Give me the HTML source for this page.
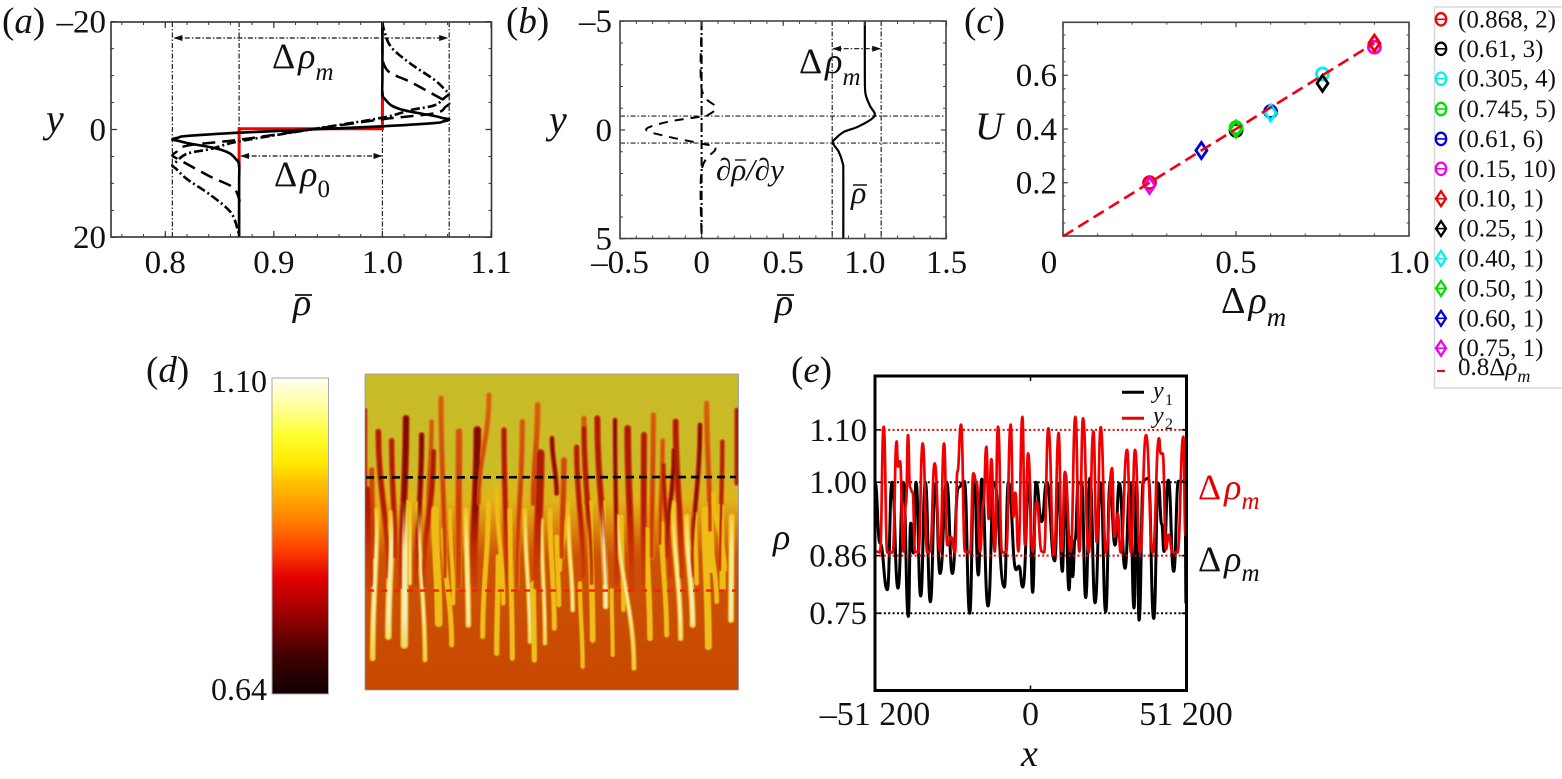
<!DOCTYPE html>
<html lang="en">
<head>
<meta charset="utf-8">
<title>Density profiles and fingering figure</title>
<style>
html,body{margin:0;padding:0;background:#fff;}
svg{display:block;font-family:"Liberation Serif","DejaVu Serif",serif;fill:#111;}
.it{font-style:italic;}
</style>
</head>
<body>
<svg id="fig" xmlns="http://www.w3.org/2000/svg" width="1562" height="779" viewBox="0 0 1562 779">
<defs>
<marker id="arrow" markerWidth="9" markerHeight="7" refX="8" refY="3.5" orient="auto-start-reverse" markerUnits="userSpaceOnUse"><path d="M0 0.5L9 3.5L0 6.5z" fill="#111"/></marker>
<linearGradient id="cbar" x1="0" y1="0" x2="0" y2="1">
<stop offset="0" stop-color="#fffff4"/><stop offset="0.1" stop-color="#ffff90"/><stop offset="0.18" stop-color="#ffff30"/><stop offset="0.27" stop-color="#ffe800"/><stop offset="0.334" stop-color="#ffc000"/><stop offset="0.45" stop-color="#ff8000"/><stop offset="0.544" stop-color="#ff4000"/><stop offset="0.63" stop-color="#e40000"/><stop offset="0.69" stop-color="#c00000"/><stop offset="0.787" stop-color="#800000"/><stop offset="0.88" stop-color="#400000"/><stop offset="1" stop-color="#100000"/>
</linearGradient>
<linearGradient id="fieldbg" x1="0" y1="0" x2="0" y2="1">
<stop offset="0" stop-color="#c8bb28"/><stop offset="0.3" stop-color="#cbbb26"/><stop offset="0.4" stop-color="#e0b41a"/><stop offset="0.5" stop-color="#d87c0e"/><stop offset="0.58" stop-color="#cc5206"/><stop offset="1" stop-color="#c84800"/>
</linearGradient>
<linearGradient id="riseCore0" gradientUnits="userSpaceOnUse" x1="0" y1="374" x2="0" y2="600">
<stop offset="0" stop-color="#6c0800"/><stop offset="0.6" stop-color="#8e1000"/><stop offset="0.78" stop-color="#c02c04"/><stop offset="1" stop-color="#cc4a04"/>
</linearGradient>
<linearGradient id="riseCore1" gradientUnits="userSpaceOnUse" x1="0" y1="374" x2="0" y2="600">
<stop offset="0" stop-color="#a81804"/><stop offset="0.6" stop-color="#b01c04"/><stop offset="0.78" stop-color="#c63404"/><stop offset="1" stop-color="#cc4a04"/>
</linearGradient>
<linearGradient id="riseCore2" gradientUnits="userSpaceOnUse" x1="0" y1="374" x2="0" y2="600">
<stop offset="0" stop-color="#d8680e"/><stop offset="0.6" stop-color="#cc3c06"/><stop offset="1" stop-color="#cc4a04"/>
</linearGradient>
<linearGradient id="fallBody" gradientUnits="userSpaceOnUse" x1="0" y1="374" x2="0" y2="690">
<stop offset="0" stop-color="#e6bc1a"/><stop offset="0.5" stop-color="#f0bc14"/><stop offset="1" stop-color="#ecc020"/>
</linearGradient>
<linearGradient id="fallCore" gradientUnits="userSpaceOnUse" x1="0" y1="500" x2="0" y2="690">
<stop offset="0" stop-color="#f8f0b0" stop-opacity="0"/><stop offset="0.25" stop-color="#f8f0b0" stop-opacity="0.9"/><stop offset="0.6" stop-color="#f4ecc0" stop-opacity="1"/><stop offset="0.9" stop-color="#f0d050" stop-opacity="0.7"/><stop offset="1" stop-color="#f0d050" stop-opacity="0"/>
</linearGradient>
<clipPath id="fieldclip"><rect x="365" y="374" width="373.5" height="316"/></clipPath>
<filter id="soft" x="-5%" y="-5%" width="110%" height="110%"><feGaussianBlur stdDeviation="0.6"/></filter>
</defs>

<!-- panel a -->
<g id="panel-a">
<text x="2" y="33" font-size="37">(<tspan class="it">a</tspan>)</text>
<text x="46" y="132" font-size="40" class="it">y</text>
<text x="293" y="315" font-size="38" class="it">ρ</text>
<line x1="295" y1="295" x2="312" y2="295" stroke="#111" stroke-width="1.8"/>
<text x="272" y="68" font-size="36">Δ<tspan class="it" dx="3">ρ</tspan><tspan class="it" font-size="25" dy="12">m</tspan></text>
<text x="274" y="186" font-size="36">Δ<tspan class="it" dx="3">ρ</tspan><tspan font-size="25" dy="11">0</tspan></text>
</g>

<!-- panel b -->
<g id="panel-b">
<text x="506" y="33" font-size="37">(<tspan class="it">b</tspan>)</text>
<text x="549" y="133" font-size="40" class="it">y</text>
<text x="775" y="315" font-size="38" class="it">ρ</text>
<line x1="777" y1="295" x2="794" y2="295" stroke="#111" stroke-width="1.8"/>
<text x="799" y="73" font-size="36">Δ<tspan class="it" dx="3">ρ</tspan><tspan class="it" font-size="25" dy="12">m</tspan></text>
<text x="716" y="180" font-size="31" class="it">∂ρ/∂y</text>
<line x1="735" y1="160" x2="746" y2="160" stroke="#111" stroke-width="1.4"/>
<text x="851" y="203" font-size="32" class="it">ρ</text>
<line x1="853" y1="185" x2="867" y2="185" stroke="#111" stroke-width="1.5"/>
</g>

<!-- panel c -->
<g id="panel-c">
<text x="964" y="33" font-size="37">(<tspan class="it">c</tspan>)</text>
<text x="975" y="139" font-size="39" class="it">U</text>
<text x="1221" y="313" font-size="38">Δ<tspan class="it" dx="3">ρ</tspan><tspan class="it" font-size="27" dy="13">m</tspan></text>
</g>
<g id="legend-c">
<rect x="1434.5" y="7" width="129" height="381" fill="#fff" stroke="#d8d8d8" stroke-width="1.5"/>
</g>

<!-- panel d -->
<g id="panel-d">
<text x="146" y="382" font-size="37">(<tspan class="it">d</tspan>)</text>
<rect x="272" y="378" width="56.5" height="316" fill="url(#cbar)" stroke="#a8a8b0" stroke-width="1"/>
<text x="267" y="392" font-size="32" text-anchor="end">1.10</text>
<text x="267" y="700" font-size="32" text-anchor="end">0.64</text>
<g clip-path="url(#fieldclip)">
<rect x="365" y="374" width="374" height="316" fill="url(#fieldbg)"/>
<g id="fingers" filter="url(#soft)"></g>
</g>
<rect x="365" y="374" width="373.5" height="316" fill="none" stroke="#8f98ac" stroke-width="0.8"/>
<line x1="366" y1="477.4" x2="736" y2="477" stroke="#000" stroke-width="2.6" stroke-dasharray="8 5"/>
<line x1="368" y1="590.6" x2="736" y2="590.6" stroke="#ff1a10" stroke-width="2.4" stroke-dasharray="6 7"/>
</g>

<!-- panel e -->
<g id="panel-e">
<text x="791" y="382" font-size="37">(<tspan class="it">e</tspan>)</text>
<text x="773" y="549" font-size="36" class="it">ρ</text>
<text x="1021" y="766" font-size="38" class="it">x</text>
<text x="1198" y="499" font-size="36" fill="#e80000">Δ<tspan class="it" dx="3">ρ</tspan><tspan class="it" font-size="25" dy="10">m</tspan></text>
<text x="1198" y="571" font-size="36">Δ<tspan class="it" dx="3">ρ</tspan><tspan class="it" font-size="25" dy="10">m</tspan></text>
</g>
</svg>

<script>
// ---------- panel (a) data ----------
const aSolidY = [-20,-10,-6.5,-5.5,-4.5,-3.8,-3.3,-2.5,-2.1,-1.85,-1.5,-1.2,-0.6,0,0.6,1.2,1.5,1.85,2.1,2.5,3.3,3.8,4.5,5.5,6.5,10,20];
const aSolidRho = [1,1,1,1.003,1.008,1.016,1.026,1.048,1.056,1.0615,1.056,1.048,1,0.934,0.868,0.82,0.812,0.8065,0.812,0.82,0.842,0.852,0.86,0.865,0.868,0.868,0.868];
const aDashedY = [-20,-14,-12.9,-10.7,-8.8,-6.4,-5.3,-4.8,-4.2,-3,-1.9,0,1.9,3,4.2,4.8,5.3,6.4,8.8,10.7,12.9,14,20];
const aDashedRho = [1,1,1,1.006,1.026,1.048,1.058,1.0615,1.058,1.048,1,0.934,0.868,0.82,0.81,0.8065,0.81,0.82,0.842,0.862,0.868,0.868,0.868];
const aDashDotY = [-20,-18.4,-15.3,-12.2,-9.2,-7.3,-6.7,-6,-4.5,-3.6,-2.2,0,2.2,3.6,4.5,6,6.7,7.3,9.2,12.2,15.3,18.4,20];
const aDashDotRho = [1,1.0015,1.008,1.026,1.048,1.058,1.0615,1.058,1.048,1.026,1,0.934,0.868,0.842,0.82,0.81,0.8065,0.81,0.82,0.842,0.86,0.8665,0.868];
const aStepY = [-7,-0.15,-0.15,7];
const aStepRho = [1,1,0.868,0.868];
const aGuideRho = [0.8065,0.868,1,1.0615];
const aXTicks = [0.8,0.9,1,1.1];
const aXTickLabels = ['0.8','0.9','1.0','1.1'];
const aYTicks = [-20,0,20];
const aYTickLabels = ['–20','0','20'];

// ---------- panel (b) data ----------
const bSolidY = [-5,-2.5,-1.67,-1.13,-0.64,-0.17,0.09,0.4,0.6,1,1.55,2,5];
const bSolidRho = [1,1,1.004,1.03,1.059,0.963,0.871,0.82,0.804,0.84,0.865,0.868,0.868];
const bGradY = [-5,-1.9,-1.06,-0.67,-0.62,-0.37,-0.02,0.3,0.63,0.86,1.85,5];
const bGradVal = [0,0,0.085,0.035,0,-0.21,-0.34,-0.21,0,0.085,0,0];
const bGuideRho = [0.8,1.1];
const bGuideY = [-0.64,0.6];
const bXTicks = [-0.5,0,0.5,1,1.5];
const bXTickLabels = ['–0.5','0','0.5','1.0','1.5'];
const bYTicks = [-5,0,5];
const bYTickLabels = ['–5','0','5'];

// ---------- panel (c) data ----------
const cCircleX = [0.25,0.5,0.75,0.5,0.6,0.9];
const cCircleY = [0.2,0.395,0.605,0.405,0.465,0.705];
const cDiamondX = [0.9,0.75,0.6,0.5,0.4,0.25];
const cDiamondY = [0.72,0.57,0.46,0.4,0.32,0.19];
const cSeriesColors = ['#f00000','#000000','#00f0f0','#00e000','#0000e0','#f000f0'];
const cFitX = [0,0.9];
const cFitY = [0,0.72];
const cXTicks = [0,0.5,1];
const cXTickLabels = ['0','0.5','1.0'];
const cYTicks = [0.2,0.4,0.6];
const cYTickLabels = ['0.2','0.4','0.6'];
const legendLabels = ['(0.868, 2)','(0.61, 3)','(0.305, 4)','(0.745, 5)','(0.61, 6)','(0.15, 10)','(0.10, 1)','(0.25, 1)','(0.40, 1)','(0.50, 1)','(0.60, 1)','(0.75, 1)'];
const legendCircleColors = ['#f00000','#000000','#00f0f0','#00e000','#0000e0','#f000f0'];
const legendDiamondColors = ['#f00000','#000000','#00f0f0','#00e000','#0000e0','#f000f0'];

// ---------- panel (e) data (x in thousands) ----------
const eY1X = [-51.2,-49.56,-47.14,-45.6,-43.63,-41.87,-40.22,-39.45,-38.58,-37.7,-36.16,-34.62,-32.98,-31.33,-29.79,-27.6,-25.73,-23.75,-21.78,-20.02,-18.59,-17.17,-16.07,-13.98,-12,-8.6,-7.28,-4.76,-3.8,-2.56,-0.37,0.71,1.81,3.68,5.33,7.96,9.17,10.49,11.36,12.68,13.45,13.89,14.66,15.76,16.85,18.17,19.6,21.25,23.11,24.76,26.19,27.83,29.26,31.13,32.77,34.09,34.97,35.74,37.17,38.81,40.57,42.11,43.21,43.97,45.4,47.16,48.7,50.9,51.2];
const eY1Rho = [1,0.884,0.795,1,0.798,1,0.744,0.922,0.865,1,0.783,1,0.772,0.997,0.826,1,0.826,0.99,1.002,0.75,1.014,0.823,1.006,0.764,1,0.8,1,0.833,0.84,0.8,1,0.79,1,0.925,1,0.85,0.998,0.83,1,0.795,0.896,0.82,0.89,1,0.998,0.78,1.008,0.77,0.998,0.753,0.998,0.88,0.998,0.836,0.998,0.76,0.998,0.737,1.004,1.008,0.74,0.998,0.92,0.868,1.004,0.83,1.002,1.002,0.77];
const eY2X = [-50.65,-49.56,-48.35,-47.14,-45.38,-44.07,-43.63,-42.97,-41.87,-40.99,-40.33,-39.67,-38.8,-38.03,-36.93,-35.5,-33.96,-33.09,-31.55,-29.79,-28.47,-27.38,-26.17,-24.85,-24.08,-22.87,-21.56,-19.91,-18.81,-17.71,-16.62,-15.52,-14.53,-13.76,-12.88,-11.78,-10.69,-9.37,-8.05,-6.52,-5.64,-4.98,-4,-2.67,-1.79,-0.8,0.71,2.03,3.68,4.45,5.87,7.74,9.28,10.27,11.36,13.23,14.77,16.09,17.29,19.16,20.7,21.8,23.11,24.87,26.85,27.61,28.71,29.7,31.79,33.1,34.42,36.07,38.04,40.24,42.33,42.88,43.53,44.63,45.4,46.83,48.37,50.34,51];
const eY2Rho = [0.868,0.866,1.106,0.866,0.866,1.078,1.03,1.04,0.868,0.96,1.09,0.99,0.98,0.868,0.866,1.074,0.866,0.868,1.036,0.868,1.074,0.88,0.896,0.866,1.02,1.11,0.868,0.866,1.017,0.998,0.868,0.96,1.068,0.93,1.044,0.868,1.106,0.866,0.866,1.11,0.934,0.98,0.868,1.125,0.88,1.055,0.868,0.963,0.868,0.866,1.103,0.862,1.094,0.868,1.02,0.868,1.125,0.868,1.122,0.866,1.097,0.886,1.105,0.866,1.027,0.896,0.94,0.866,1.062,0.866,1.062,0.866,1.09,0.866,1.084,1.055,1.055,0.872,0.9,0.866,0.866,1.087,0.9];
const eRedRefs = [1.1,0.86];
const eBlackRefs = [1,0.75];
const eXTicks = [-51.2,0,51.2];
const eXTickLabels = ['–51 200','0','51 200'];
const eYTicks = [1.1,1,0.86,0.75];
const eYTickLabels = ['1.10','1.00','0.86','0.75'];

// ---------- panel (d) structures: tipX, tipY, baseX, baseY, width, tone ----------
const risingFingers = [
[15,120,15,345,8,1],[20,365,25,640,30,1],[35,300,40,560,12,2],[55,185,85,620,12,1],[95,212,105,560,11,1],[138,145,125,650,15,0],[185,195,170,640,11,0],[215,155,205,420,9,2],[220,245,190,650,12,1],[243,85,255,620,11,2],[297,185,295,650,15,2],[352,180,340,640,18,0],[387,75,355,400,10,2],[432,180,440,640,11,1],[487,155,470,650,11,2],[533,105,520,400,12,2],[541,250,530,650,20,1],[576,205,590,370,9,0],[612,270,605,560,13,2],[650,232,670,620,11,1],[672,145,680,400,11,2],[672,175,695,640,11,1],[712,145,735,640,13,1],[765,150,770,640,8,0],[803,175,815,650,15,1],[852,195,850,640,13,1],[880,135,875,560,11,2],[908,212,900,520,9,2],[910,285,930,620,9,1],[942,240,920,560,9,0],[947,155,965,620,13,1],[1020,165,995,620,9,0],[1040,100,1050,480,11,2],[1087,215,1080,600,8,1],[1130,120,1130,340,8,1]
];
const fallingFingers = [
[38,865,50,420,15,1],[85,800,95,430,18,1],[133,825,135,400,21,1],[195,870,175,400,12,1],[236,760,225,420,20,0],[275,825,250,480,12,0],[325,765,318,420,15,1],[368,800,385,400,12,0],[410,850,415,560,13,0],[457,865,450,420,12,0],[510,815,495,420,12,1],[523,870,520,640,13,0],[555,820,545,450,11,1],[583,775,570,420,12,0],[597,705,590,500,11,0],[638,720,625,440,12,1],[668,890,660,640,10,0],[698,810,690,400,14,0],[737,710,728,400,15,1],[758,855,755,660,9,0],[822,895,775,440,12,1],[870,805,860,480,14,0],[920,795,905,460,12,0],[962,805,940,400,14,1],[998,765,980,440,16,1],[1045,830,1035,420,18,0],[1113,750,1115,440,16,1],[1070,695,1050,460,11,0],[1088,655,1082,410,16,0],[1055,600,1050,400,16,0],[150,640,150,400,9,1],[280,700,270,420,9,0],[430,700,410,350,10,0],[600,600,625,400,9,0],[790,720,785,440,10,0],[1010,640,1005,430,10,0],[1095,600,1060,370,9,0]
];

// ---------- scales ----------
const ax = v => 111 + (v - 0.75) * 1085.7;
const ay = v => 129.5 + v * 5.39;
const bx = v => 701.6 + v * 163.25;
const by = v => 130 + v * 21.75;
const cx = v => 1063 + v * 346;
const cy = v => 236.4 - v * 268.5;
const ex = v => 1030.5 + v * 3.037;
const ey = v => 482.3 - (v - 1) * 524;
const fx = v => 360 + v / 3;
const fy = v => 370 + v / 3;

const NS = 'http://www.w3.org/2000/svg';
function mk(tag, parent, attrs, text) {
  const e = document.createElementNS(NS, tag);
  for (const k in attrs) e.setAttribute(k, attrs[k]);
  if (text !== undefined) e.textContent = text;
  parent.appendChild(e);
  return e;
}
function smooth(px, py) {
  let d = 'M' + px[0].toFixed(2) + ' ' + py[0].toFixed(2);
  for (let i = 0; i < px.length - 1; i++) {
    const a = Math.max(i - 1, 0), b = Math.min(i + 2, px.length - 1);
    const c1x = px[i] + (px[i + 1] - px[a]) / 6, c1y = py[i] + (py[i + 1] - py[a]) / 6;
    const c2x = px[i + 1] - (px[b] - px[i]) / 6, c2y = py[i + 1] - (py[b] - py[i]) / 6;
    d += 'C' + c1x.toFixed(2) + ' ' + c1y.toFixed(2) + ' ' + c2x.toFixed(2) + ' ' + c2y.toFixed(2) + ' ' + px[i + 1].toFixed(2) + ' ' + py[i + 1].toFixed(2);
  }
  return d;
}
function oscillation(px, py) {
  let d = 'M' + px[0].toFixed(2) + ' ' + py[0].toFixed(2);
  for (let i = 0; i < px.length - 1; i++) {
    const m = (px[i] + px[i + 1]) / 2;
    d += 'C' + m.toFixed(2) + ' ' + py[i].toFixed(2) + ' ' + m.toFixed(2) + ' ' + py[i + 1].toFixed(2) + ' ' + px[i + 1].toFixed(2) + ' ' + py[i + 1].toFixed(2);
  }
  return d;
}
function drawFrame(parent, l, t, r, b, sw, color) {
  const f = mk('rect', parent, {x: l, y: t, width: r - l, height: b - t, fill: 'none', stroke: color, 'stroke-width': sw});
  
  
}
function drawTickMarks(parent, l, t, r, b, xs, ys, len, color, sw) {
  let d = '';
  xs.forEach(p => { d += 'M' + p + ' ' + b + 'v-' + len + 'M' + p + ' ' + t + 'v' + len; });
  ys.forEach(p => { d += 'M' + l + ' ' + p + 'h' + len + 'M' + r + ' ' + p + 'h-' + len; });
  const m = mk('path', parent, {d: d, stroke: color, 'stroke-width': sw, fill: 'none'});
  
  
}
function drawXLabels(parent, values, labels, scale, baseline, size) {
  values.forEach((v, i) => {
    const t = mk('text', parent, {x: scale(v), y: baseline, 'font-size': size, 'text-anchor': 'middle'}, labels[i]);
    
    
  });
}
function drawYLabels(parent, values, labels, scale, right, size) {
  values.forEach((v, i) => {
    const t = mk('text', parent, {x: right, y: scale(v) + size * 0.33, 'font-size': size, 'text-anchor': 'end'}, labels[i]);
    
    
  });
}
function range(start, stop, step) {
  const out = [];
  for (let v = start; v <= stop + step / 1000; v += step) out.push(v);
  return out;
}
const DASHDOT = '9 3 2 3';
const GUIDE = '5 2 1.5 2';
const TICK_FONT = 33;

// ---------- panel a ----------
const gA = document.getElementById('panel-a');
aGuideRho.forEach(v => {
  const l = mk('line', gA, {x1: ax(v), x2: ax(v), y1: 22, y2: 237, stroke: '#222', 'stroke-width': 1.2, 'stroke-dasharray': GUIDE});
  
  
});
const aStep = mk('path', gA, {d: 'M' + aStepRho.map((v, i) => ax(v) + ' ' + ay(aStepY[i])).join('L'), fill: 'none', stroke: '#f00000', 'stroke-width': 3});


const aSolid = mk('path', gA, {d: smooth(aSolidRho.map(ax), aSolidY.map(ay)), fill: 'none', stroke: '#000', 'stroke-width': 2.6});


const aDashed = mk('path', gA, {d: smooth(aDashedRho.map(ax), aDashedY.map(ay)), fill: 'none', stroke: '#000', 'stroke-width': 2.5, 'stroke-dasharray': '13 7'});


const aDashDot = mk('path', gA, {d: smooth(aDashDotRho.map(ax), aDashDotY.map(ay)), fill: 'none', stroke: '#000', 'stroke-width': 2.6, 'stroke-dasharray': DASHDOT});


const aArrowM = mk('line', gA, {x1: ax(0.8065) + 2, x2: ax(1.0615) - 2, y1: 38, y2: 38, stroke: '#111', 'stroke-width': 1.2, 'stroke-dasharray': GUIDE, 'marker-start': 'url(#arrow)', 'marker-end': 'url(#arrow)'});


const aArrow0 = mk('line', gA, {x1: ax(0.868) + 2, x2: ax(1) - 1, y1: 156, y2: 156, stroke: '#111', 'stroke-width': 1.2, 'stroke-dasharray': GUIDE, 'marker-start': 'url(#arrow)', 'marker-end': 'url(#arrow)'});


drawFrame(gA, 111, 22, 491.5, 237, 1.6, '#333');
drawTickMarks(gA, 111, 22, 491.5, 237, range(0.76, 1.09, 0.02).map(ax), range(-15, 15, 5).map(ay), 3, '#333', 1);
drawTickMarks(gA, 111, 22, 491.5, 237, aXTicks.map(ax), aYTicks.map(ay), 6, '#333', 1.2);
drawXLabels(gA, aXTicks, aXTickLabels, ax, 273, TICK_FONT);
drawYLabels(gA, aYTicks, aYTickLabels, ay, 106, TICK_FONT);

// ---------- panel b ----------
const gB = document.getElementById('panel-b');
bGuideRho.forEach(v => {
  const l = mk('line', gB, {x1: bx(v), x2: bx(v), y1: 21, y2: 238.5, stroke: '#222', 'stroke-width': 1.2, 'stroke-dasharray': GUIDE});
  
  
});
bGuideY.forEach(v => {
  const l = mk('line', gB, {x1: 620, x2: 946, y1: by(v), y2: by(v), stroke: '#222', 'stroke-width': 1.2, 'stroke-dasharray': GUIDE});
  
  
});
const bZero = mk('line', gB, {x1: bx(0), x2: bx(0), y1: 21, y2: 238.5, stroke: '#000', 'stroke-width': 2, 'stroke-dasharray': DASHDOT});


const bSolid = mk('path', gB, {d: smooth(bSolidRho.map(bx), bSolidY.map(by)), fill: 'none', stroke: '#000', 'stroke-width': 2.2});


const bGrad = mk('path', gB, {d: smooth(bGradVal.map(bx), bGradY.map(by)), fill: 'none', stroke: '#000', 'stroke-width': 2, 'stroke-dasharray': '9 7'});


const bArrow = mk('line', gB, {x1: bx(0.8) + 1, x2: bx(1.1) - 1, y1: 48.7, y2: 48.7, stroke: '#111', 'stroke-width': 1.2, 'stroke-dasharray': GUIDE, 'marker-start': 'url(#arrow)', 'marker-end': 'url(#arrow)'});


drawFrame(gB, 620, 21, 946, 238.5, 1.6, '#444');
drawTickMarks(gB, 620, 21, 946, 238.5, range(-0.4, 1.4, 0.1).map(bx), range(-4, 4, 1).map(by), 3, '#444', 1);
drawTickMarks(gB, 620, 21, 946, 238.5, bXTicks.map(bx), bYTicks.map(by), 5, '#444', 1.2);
drawXLabels(gB, bXTicks, bXTickLabels, bx, 273, TICK_FONT);
drawYLabels(gB, bYTicks, bYTickLabels, by, 612, TICK_FONT);

// ---------- panel c ----------
const gC = document.getElementById('panel-c');
function circleAt(parent, x, y, color, rx, ry, sw) {
  return mk('ellipse', parent, {cx: x, cy: y, rx: rx, ry: ry, fill: 'none', stroke: color, 'stroke-width': sw});
}
function diamondAt(parent, x, y, color, hw, hh, sw) {
  return mk('polygon', parent, {points: (x - hw) + ',' + y + ' ' + x + ',' + (y - hh) + ' ' + (x + hw) + ',' + y + ' ' + x + ',' + (y + hh), fill: 'none', stroke: color, 'stroke-width': sw});
}
cSeriesColors.forEach((color, i) => {
  const c = circleAt(gC, cx(cCircleX[i]), cy(cCircleY[i]), color, 6, 6, 2.8);
  
  
});
cSeriesColors.forEach((color, i) => {
  const d = diamondAt(gC, cx(cDiamondX[i]), cy(cDiamondY[i]), color, 5.5, 8, 2.8);
  
  
});
const cFit = mk('line', gC, {x1: cx(cFitX[0]), y1: cy(cFitY[0]), x2: cx(cFitX[1]), y2: cy(cFitY[1]), stroke: '#f00010', 'stroke-width': 2.6, 'stroke-dasharray': '12 6'});


drawFrame(gC, 1063, 22.3, 1409, 236, 1.6, '#444');
drawTickMarks(gC, 1063, 22.3, 1409, 236, range(0.1, 0.9, 0.1).map(cx), range(0.05, 0.75, 0.05).map(cy), 2.5, '#444', 1);
drawTickMarks(gC, 1063, 22.3, 1409, 236, cXTicks.map(cx), cYTicks.map(cy), 5, '#444', 1.2);
drawXLabels(gC, [0.5, 1], ['0.5', '1.0'], cx, 273, TICK_FONT);
const c0 = mk('text', gC, {x: 1049, y: 273, 'font-size': TICK_FONT, 'text-anchor': 'middle'}, cXTickLabels[0]);


drawYLabels(gC, cYTicks, cYTickLabels, cy, 1057, TICK_FONT);

// ---------- legend ----------
const gL = document.getElementById('legend-c');
const legendRowY = i => i < 1 ? 19.3 : 19.3 + 29.9 * i - (i < 3 ? 0.4 : 0);
legendLabels.forEach((label, i) => {
  const yc = legendRowY(i);
  const color = i < 6 ? legendCircleColors[i] : legendDiamondColors[i - 6];
  const sep = mk('line', gL, {x1: 1436, x2: 1446, y1: yc, y2: yc, stroke: color, 'stroke-width': 1.6});
  
  
  const marker = i < 6 ? circleAt(gL, 1441, yc, color, 5.2, 6.2, 2.3) : diamondAt(gL, 1441, yc, color, 5, 7.5, 2.3);
  
  
  const t = mk('text', gL, {x: 1458, y: yc + 8, 'font-size': 25}, label);
  
  
});
const legFit = mk('line', gL, {x1: 1437, x2: 1445, y1: 371, y2: 371, stroke: '#f00010', 'stroke-width': 2.2});


const legFitText = mk('text', gL, {x: 1458, y: 375, 'font-size': 25});


legFitText.appendChild(document.createTextNode('0.8Δ'));
const ls1 = mk('tspan', legFitText, {'font-style': 'italic'}, 'ρ');


const ls2 = mk('tspan', legFitText, {'font-style': 'italic', 'font-size': 18, dy: 7}, 'm');



// ---------- panel d ----------
const gF = document.getElementById('fingers');
function fingerPath(f) {
  const tx = fx(f[0]), ty = fy(f[1]), bxx = fx(f[2]), byy = fy(f[3]);
  const len = byy - ty;
  return 'M' + tx + ' ' + ty + 'C' + tx + ' ' + (ty + len * 0.4) + ' ' + bxx + ' ' + (byy - len * 0.4) + ' ' + bxx + ' ' + byy;
}
function fallingPath(f) {
  const tx = fx(f[0]), ty = fy(f[1]), bxx = fx(f[2]), byy = fy(f[3]);
  const len = ty - byy;
  return 'M' + tx + ' ' + ty + 'C' + tx + ' ' + (ty - len * 0.4) + ' ' + bxx + ' ' + (byy + len * 0.4) + ' ' + bxx + ' ' + byy;
}
const risingHalo = ['#cc3a08', '#d44a08', '#dc7c14'];
risingFingers.forEach(f => {
  const halo = mk('path', gF, {d: fingerPath(f), fill: 'none', stroke: risingHalo[f[5]], 'stroke-width': f[4] / 3 + 2.4, 'stroke-linecap': 'round'});
  
  
});
fallingFingers.forEach(f => {
  const body = mk('path', gF, {d: fallingPath(f), fill: 'none', stroke: 'url(#fallBody)', 'stroke-width': f[4] / 3 + 1, 'stroke-linecap': 'round'});
  
  
});
risingFingers.forEach(f => {
  const core = mk('path', gF, {d: fingerPath(f), fill: 'none', stroke: 'url(#riseCore' + f[5] + ')', 'stroke-width': f[4] / 3, 'stroke-linecap': 'round'});
  
  
});
fallingFingers.forEach(f => {
  if (!f[5]) return;
  const hi = mk('path', gF, {d: fallingPath(f), fill: 'none', stroke: 'url(#fallCore)', 'stroke-width': Math.max(f[4] / 3 - 2, 1.4), 'stroke-linecap': 'round'});
  
  
});

// ---------- panel e ----------
const gE = document.getElementById('panel-e');
eBlackRefs.forEach(v => {
  const l = mk('line', gE, {x1: 875, x2: 1186, y1: ey(v), y2: ey(v), stroke: '#000', 'stroke-width': 2, 'stroke-dasharray': '2 2.4'});
  
  
});
const eY1 = mk('path', gE, {d: oscillation(eY1X.map(ex), eY1Rho.map(ey)), fill: 'none', stroke: '#000', 'stroke-width': 3});


const eY2 = mk('path', gE, {d: oscillation(eY2X.map(ex), eY2Rho.map(ey)), fill: 'none', stroke: '#f00000', 'stroke-width': 2.7});


eRedRefs.forEach(v => {
  const l = mk('line', gE, {x1: 875, x2: 1186, y1: ey(v), y2: ey(v), stroke: '#f00000', 'stroke-width': 2, 'stroke-dasharray': '2 2.4'});
  
  
});
drawFrame(gE, 875, 376, 1186.5, 690.5, 3, '#000');
drawTickMarks(gE, 875, 376, 1186.5, 690.5, [ex(0)], eYTicks.map(ey), 5, '#000', 1.5);
drawXLabels(gE, eXTicks, eXTickLabels, ex, 725, 34);
drawYLabels(gE, eYTicks, eYTickLabels, ey, 867, TICK_FONT);
const eLeg1 = mk('line', gE, {x1: 1122, x2: 1144, y1: 392.3, y2: 392.3, stroke: '#000', 'stroke-width': 3});


const eLeg2 = mk('line', gE, {x1: 1122, x2: 1144, y1: 418.3, y2: 418.3, stroke: '#f00000', 'stroke-width': 3});


const eT1 = mk('text', gE, {x: 1153, y: 398, 'font-size': 24, 'font-style': 'italic'}, 'y');


const eS1 = mk('text', gE, {x: 1165, y: 405, 'font-size': 16}, '1');


const eT2 = mk('text', gE, {x: 1153, y: 423, 'font-size': 24, 'font-style': 'italic'}, 'y');


const eS2 = mk('text', gE, {x: 1165, y: 429, 'font-size': 16}, '2');


</script>
</body>
</html>
